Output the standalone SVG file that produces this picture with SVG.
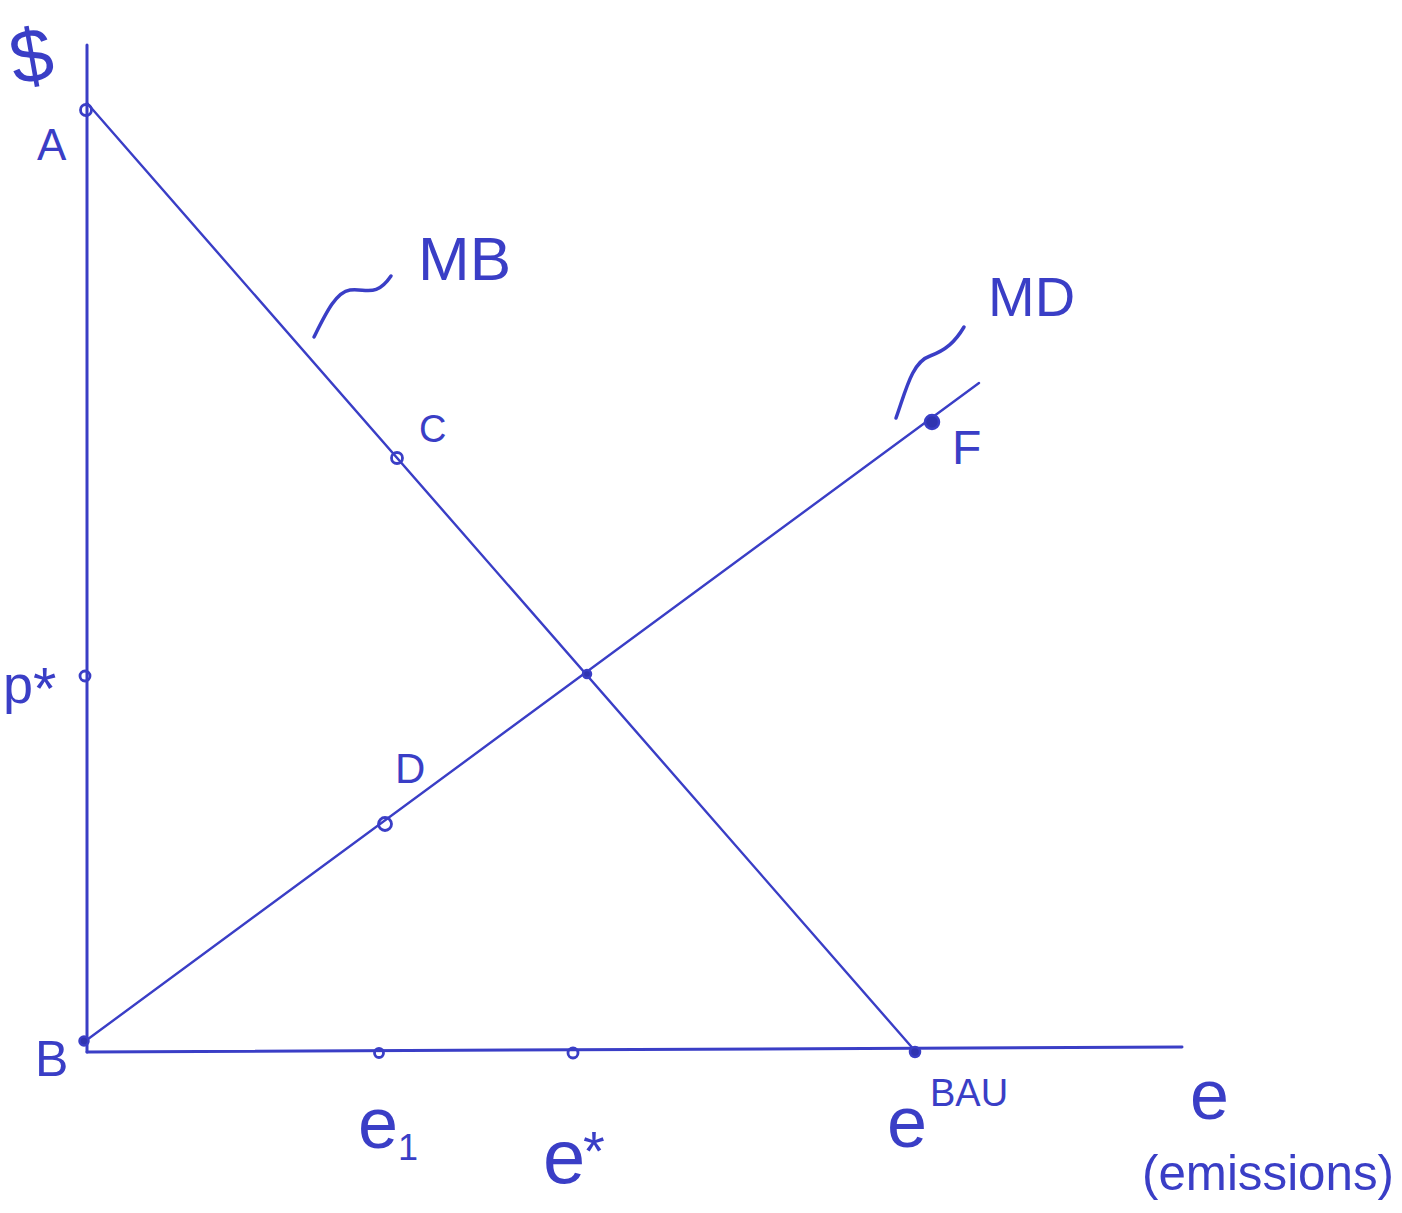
<svg xmlns="http://www.w3.org/2000/svg" width="1402" height="1213" viewBox="0 0 1402 1213">
<style>
.ln{stroke:#3a3ec6;stroke-width:2.4;fill:none;stroke-linecap:round}
.ax{stroke:#3a3ec6;stroke-width:3;fill:none;stroke-linecap:round}
.pt{stroke:#3a3ec6;stroke-width:2.8;fill:none}
.ptf{stroke:#3a3ec6;stroke-width:2.5;fill:#3034b0}
.sq{stroke:#3a3ec6;stroke-width:3.5;fill:none;stroke-linecap:round}
text{font-family:"Liberation Sans",Arial,sans-serif;fill:#3a3ec6}
</style>
<rect width="1402" height="1213" fill="#ffffff"/>
<g id="connectors">
<line class="ax" x1="87" y1="45" x2="87" y2="1052"/>
<line class="ax" x1="87" y1="1052" x2="1182" y2="1047"/>
<line class="ln" x1="87" y1="103" x2="916" y2="1052"/>
<line class="ln" x1="84" y1="1042" x2="979" y2="383"/>
<path class="sq" d="M314,337 C326,313 336,292 350,290 C366,288 376,298 391,276"/>
<path class="sq" d="M896,418 C906,390 912,362 930,356 C946,350 955,342 964,327"/>
</g>
<g id="dollar"><text x="9" y="82" font-size="76" transform="rotate(-10 30 50)">$</text></g>
<g id="A"><circle class="pt" cx="86" cy="110" r="5.5"/><text x="37" y="160" font-size="44">A</text></g>
<g id="B"><circle class="ptf" cx="84" cy="1041" r="4.5"/><text x="35" y="1076" font-size="50">B</text></g>
<g id="pstar"><circle class="pt" cx="85" cy="676" r="5"/><text x="3" y="703" font-size="54">p<tspan font-size="60" dy="6">*</tspan></text></g>
<g id="C"><circle class="pt" cx="397" cy="458" r="5.5"/><text x="419" y="442" font-size="38">C</text></g>
<g id="D"><circle class="pt" cx="385" cy="824" r="6.5"/><text x="395" y="783" font-size="42">D</text></g>
<g id="F"><circle class="ptf" cx="932" cy="422" r="7"/><text x="952" y="464" font-size="48">F</text></g>
<g id="eq"><circle class="ptf" cx="587" cy="674" r="4"/></g>
<g id="MB"><text x="418" y="280" font-size="62">MB</text></g>
<g id="MD"><text x="988" y="316" font-size="56">MD</text></g>
<g id="e1"><circle class="pt" cx="379" cy="1053" r="4.5"/><text x="358" y="1148" font-size="72">e</text><text x="398" y="1160" font-size="36">1</text></g>
<g id="estar"><circle class="pt" cx="573" cy="1053" r="5"/><text x="543" y="1183" font-size="76">e</text><text x="583" y="1170" font-size="56">*</text></g>
<g id="eBAU"><circle class="ptf" cx="915" cy="1052" r="5"/><text x="887" y="1147" font-size="72">e</text><text x="930" y="1106" font-size="38">BAU</text></g>
<g id="e"><text x="1190" y="1119" font-size="70">e</text></g>
<g id="emissions"><text x="1142" y="1190" font-size="50" textLength="252" lengthAdjust="spacingAndGlyphs">(emissions)</text></g>
</svg>
